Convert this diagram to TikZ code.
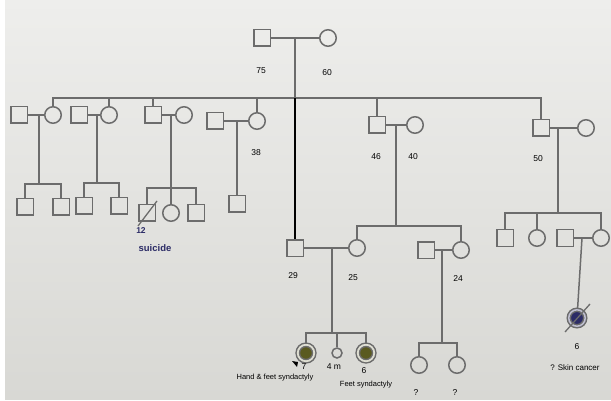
\documentclass[tikz,border=0pt]{standalone}
\usepackage{fontspec}
\setmainfont{Liberation Sans}
\usetikzlibrary{positioning}
\definecolor{screen}{HTML}{EEEEEC}
\definecolor{screendark}{HTML}{D8D8D4}
\definecolor{pedline}{HTML}{6C6C6C}
\definecolor{olive}{HTML}{5A5A20}
\definecolor{inkblue}{HTML}{2C2C66}
\tikzset{
  male/.style={draw=pedline, line width=1.5pt, minimum size=16.5pt, inner sep=0pt},
  female/.style={circle, draw=pedline, line width=1.5pt, minimum size=16.5pt, inner sep=0pt},
  affected/.style={female, fill=olive, double=white!80!olive, double distance=1.8pt},
  link/.style={draw=pedline, line width=1.5pt},
  age/.style={font=\fontsize{8.5}{10}\selectfont, inner sep=0pt},
  note/.style={font=\fontsize{7.5}{9}\selectfont, inner sep=0pt}
}
\begin{document}
\begin{tikzpicture}[x=1pt, y=-1pt]
		\useasboundingbox (0,0) rectangle (611,401);
		\fill[white] (0,0) rectangle (611,401);
		\shade[top color=screen, bottom color=screendark] (5,0) rectangle (611,399);
		
		% grandparents
		\node[male] (gpa) at (262,38) {};
		\node[female] (gma) at (328,38) {};
		\node[age] (gpaage) at (261,71) {75};
		\node[age] (gmaage) at (327,73) {60};
		\coordinate (gpmate) at (295,38);
		\coordinate (gpsib) at (295,98);
		\path[link] (gpa) -- (gma);
		\path[link] (gpmate) -- (gpsib);
		
		% second generation
		\node[male] (h1) at (19,115) {};
		\node[female] (f1) at (53,115) {};
		\node[male] (h2) at (79,115) {};
		\node[female] (f2) at (109,115) {};
		\node[male] (m3) at (153,115) {};
		\node[female] (w3) at (184,115) {};
		\node[male] (h4) at (215,121) {};
		\node[female] (f4) at (257,121) {};
		\node[male] (m5) at (377,125) {};
		\node[female] (w5) at (415,125) {};
		\node[male] (m6) at (541,128) {};
		\node[female] (w6) at (586,128) {};
		\node[age] (f4age) at (256,153) {38};
		\node[age] (m5age) at (376,157) {46};
		\node[age] (w5age) at (413,157) {40};
		\node[age] (m6age) at (538,159) {50};
		
		\path[link] (f1) |- (gpsib) -| (m6);
		\path[link] (f2) -- (f2 |- gpsib);
		\path[link] (m3) -- (m3 |- gpsib);
		\path[link] (f4) -- (f4 |- gpsib);
		\path[link] (m5) -- (m5 |- gpsib);
		\path[link] (h1) -- (f1);
		\path[link] (h2) -- (f2);
		\path[link] (m3) -- (w3);
		\path[link] (h4) -- (f4);
		\path[link] (m5) -- (w5);
		\path[link] (m6) -- (w6);
		
		% third generation
		\node[male] (c11) at (25,207) {};
		\node[male] (c12) at (61,207) {};
		\node[male] (c21) at (84,206) {};
		\node[male] (c22) at (119,206) {};
		\node[male] (c31) at (147,213) {};
		\node[female] (c32) at (171,213) {};
		\node[male] (c33) at (196,213) {};
		\node[male] (c41) at (237,204) {};
		\node[male] (m7) at (295,248) {};
		\node[female] (c51) at (357,248) {};
		\node[male] (h52) at (426,250) {};
		\node[female] (c52) at (461,250) {};
		\node[male] (c61) at (505,238) {};
		\node[female] (c62) at (537,238) {};
		\node[male] (h63) at (565,238) {};
		\node[female] (c63) at (601,238) {};
		\draw[pedline, line width=1.3pt] (138,226) -- (157,201);
		\node[age, text=inkblue, font=\bfseries\fontsize{8.5}{10}\selectfont] (c31age) at (141,231) {12};
		\node[age, text=inkblue, font=\bfseries\fontsize{9.5}{11}\selectfont] (c31note) at (155,248) {suicide};
		\node[age] (m7age) at (293,276) {29};
		\node[age] (c51age) at (353,278) {25};
		\node[age] (c52age) at (458,279) {24};
		
		\coordinate (d1) at (39,115);
		\coordinate (s1) at (39,184);
		\path[link] (d1) -- (s1);
		\path[link] (c11) |- (s1) -| (c12);
		\coordinate (d2) at (97,115);
		\coordinate (s2) at (97,183);
		\path[link] (d2) -- (s2);
		\path[link] (c21) |- (s2) -| (c22);
		\coordinate (d3) at (171,115);
		\coordinate (s3) at (171,188);
		\path[link] (d3) -- (c32);
		\path[link] (c31) |- (s3) -| (c33);
		\coordinate (d4) at (237,121);
		\path[link] (d4) -- (c41);
		\coordinate (d5) at (396,125);
		\coordinate (s5) at (396,226);
		\path[link] (d5) -- (s5);
		\path[link] (c51) |- (s5) -| (c52);
		\coordinate (d6) at (558,128);
		\coordinate (s6) at (558,213);
		\path[link] (d6) -- (s6);
		\path[link] (c61) |- (s6) -| (c63);
		\path[link] (c62) -- (c62 |- s6);
		\draw[black, line width=1.5pt] (gpsib) -- (m7);
		\path[link] (m7) -- (c51);
		\path[link] (h52) -- (c52);
		\path[link] (h63) -- (c63);
		
		% fourth generation
		\node[affected] (g1) at (306,353) {};
		\node[female, minimum size=10pt] (g2) at (337,353) {};
		\node[affected] (g3) at (366,353) {};
		\node[female] (g4) at (419,365) {};
		\node[female] (g5) at (457,365) {};
		\node[female, fill=inkblue, double=white!70!inkblue, double distance=1.5pt] (g6) at (577,318) {};
		\draw[pedline, line width=1.3pt] (565,332) -- (590,304);
		\fill[black] (292,361) -- (298,362) -- (297,367) -- cycle;
		\node[age] (g1age) at (304,367) {7};
		\node[age] (g2age) at (334,367) {4 m};
		\node[age] (g3age) at (364,371) {6};
		\node[note] (g1note) at (275,378) {Hand \& feet syndactyly};
		\node[note] (g3note) at (366,385) {Feet syndactyly};
		\node[age] (g4age) at (416,393) {?};
		\node[age] (g5age) at (455,393) {?};
		\node[age] (g6age) at (577,347) {6};
		\node[note, font=\fontsize{8}{9}\selectfont] (g6note) at (575,368) {? Skin cancer};
		
		\coordinate (d7) at (332,248);
		\coordinate (s7) at (332,333);
		\path[link] (d7) -- (s7);
		\path[link] (g1) |- (s7) -| (g3);
		\path[link] (g2) -- (s7 -| g2);
		\coordinate (d8) at (442,250);
		\coordinate (s8) at (442,343);
		\path[link] (d8) -- (s8);
		\path[link] (g4) |- (s8) -| (g5);
		\coordinate (d9) at (582,238);
		\path[link] (d9) -- (g6);
		\end{tikzpicture}
\end{document}
